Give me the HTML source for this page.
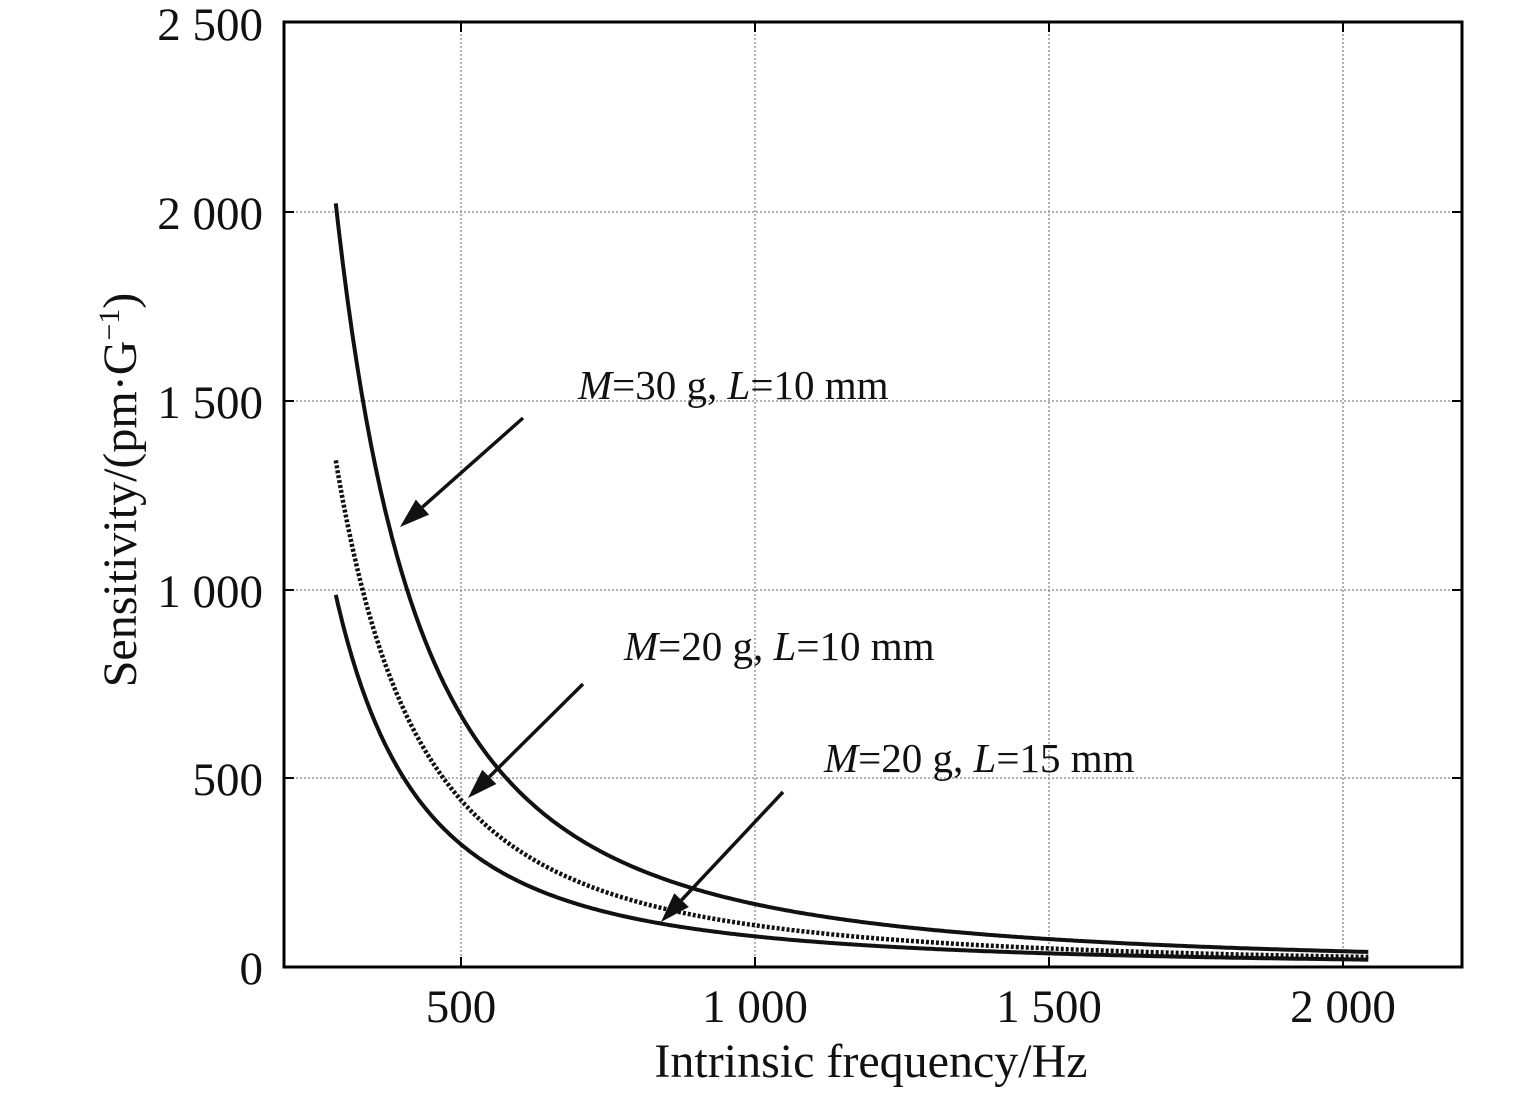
<!DOCTYPE html>
<html><head><style>
body{margin:0;background:#fff;}
svg{display:block;font-family:"Liberation Serif",serif;}
</style></head><body>
<svg id="s" width="1535" height="1093" viewBox="0 0 1535 1093">
<g stroke="#999" stroke-width="1.5" stroke-dasharray="2,2">
<line x1="461" y1="22" x2="461" y2="967"/>
<line x1="755" y1="22" x2="755" y2="967"/>
<line x1="1049" y1="22" x2="1049" y2="967"/>
<line x1="1343" y1="22" x2="1343" y2="967"/>
<line x1="284" y1="212" x2="1462" y2="212"/>
<line x1="284" y1="401" x2="1462" y2="401"/>
<line x1="284" y1="590" x2="1462" y2="590"/>
<line x1="284" y1="778" x2="1462" y2="778"/>
</g>
<g stroke="#000" stroke-width="2">
<line x1="461" y1="967" x2="461" y2="957"/><line x1="461" y1="22" x2="461" y2="32"/>
<line x1="755" y1="967" x2="755" y2="957"/><line x1="755" y1="22" x2="755" y2="32"/>
<line x1="1049" y1="967" x2="1049" y2="957"/><line x1="1049" y1="22" x2="1049" y2="32"/>
<line x1="1343" y1="967" x2="1343" y2="957"/><line x1="1343" y1="22" x2="1343" y2="32"/>
<line x1="284" y1="212" x2="294" y2="212"/><line x1="1462" y1="212" x2="1452" y2="212"/>
<line x1="284" y1="401" x2="294" y2="401"/><line x1="1462" y1="401" x2="1452" y2="401"/>
<line x1="284" y1="590" x2="294" y2="590"/><line x1="1462" y1="590" x2="1452" y2="590"/>
<line x1="284" y1="778" x2="294" y2="778"/><line x1="1462" y1="778" x2="1452" y2="778"/>
</g>
<g id="curves" fill="none" stroke="#111"></g>
<rect x="284" y="22" width="1178" height="945" fill="none" stroke="#000" stroke-width="3"/>
<g font-size="47" fill="#111" text-anchor="end">
<text x="263" y="40">2 500</text>
<text x="263" y="229">2 000</text>
<text x="263" y="418">1 500</text>
<text x="263" y="607">1 000</text>
<text x="263" y="795">500</text>
<text x="263" y="984">0</text>
</g>
<g font-size="47" fill="#111" text-anchor="middle">
<text x="461" y="1022">500</text>
<text x="755" y="1022">1 000</text>
<text x="1049" y="1022">1 500</text>
<text x="1343" y="1022">2 000</text>
<text x="871" y="1077" font-size="48">Intrinsic frequency/Hz</text>
<text transform="translate(136,490) rotate(-90)" font-size="48">Sensitivity/(pm·G<tspan font-size="30" dy="-17">−1</tspan><tspan dy="17">)</tspan></text>
</g>
<g font-size="41" fill="#111">
<text x="578" y="399"><tspan font-style="italic">M</tspan>=30 g, <tspan font-style="italic">L</tspan>=10 mm</text>
<text x="624" y="660"><tspan font-style="italic">M</tspan>=20 g, <tspan font-style="italic">L</tspan>=10 mm</text>
<text x="824" y="772"><tspan font-style="italic">M</tspan>=20 g, <tspan font-style="italic">L</tspan>=15 mm</text>
</g>
<g id="arrows" stroke="#111" stroke-width="3.5" fill="#111"></g>
</svg>
<script>
var ns="http://www.w3.org/2000/svg";
function X(f){return 167+f*0.588;}
function Y(s){return 967-s*0.378;}
var cs=[[1.664e8,"",4],[1.104e8,"3,2",4.5],[8.11e7,"",4]];
var g=document.getElementById("curves");
cs.forEach(function(c){var d="";for(var f=287;f<=2043;f+=4){d+=(d?"L":"M")+X(f).toFixed(1)+","+Y(c[0]/f/f).toFixed(1);}
var p=document.createElementNS(ns,"path");p.setAttribute("d",d);p.setAttribute("stroke-width",c[2]);if(c[1])p.setAttribute("stroke-dasharray",c[1]);g.appendChild(p);});
var ar=[[523,418,400,527],[583,684,468,798],[783,792,661,922]];
var ga=document.getElementById("arrows");
ar.forEach(function(a){var dx=a[2]-a[0],dy=a[3]-a[1],L=Math.hypot(dx,dy),ux=dx/L,uy=dy/L,hl=30,hw=10;
var bx=a[2]-ux*hl,by=a[3]-uy*hl;
var l=document.createElementNS(ns,"line");l.setAttribute("x1",a[0]);l.setAttribute("y1",a[1]);l.setAttribute("x2",bx);l.setAttribute("y2",by);ga.appendChild(l);
var p=document.createElementNS(ns,"polygon");p.setAttribute("stroke","none");
p.setAttribute("points",a[2]+","+a[3]+" "+(bx-uy*hw)+","+(by+ux*hw)+" "+(bx+uy*hw)+","+(by-ux*hw));ga.appendChild(p);});
</script>
</body></html>
